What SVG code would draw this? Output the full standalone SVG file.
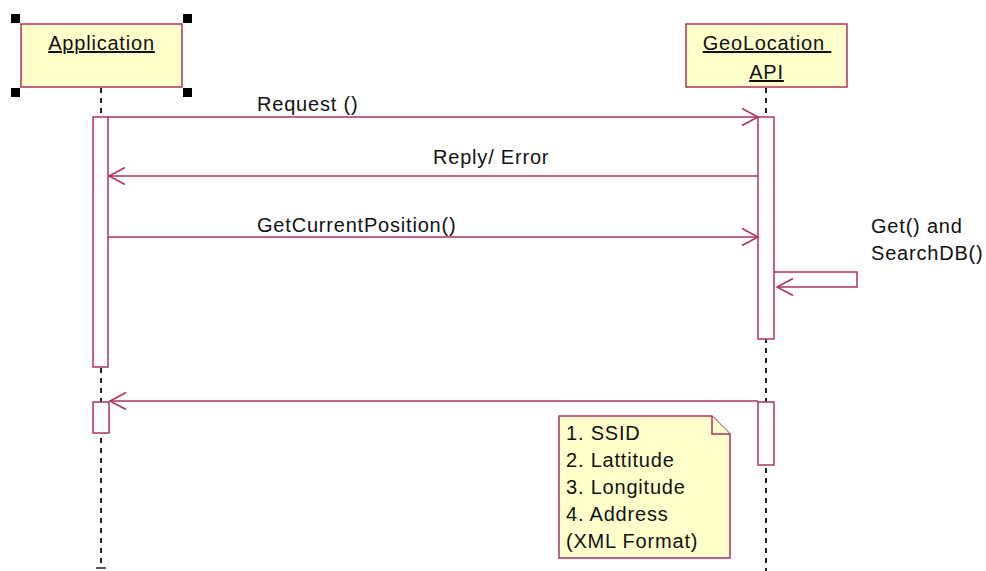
<svg xmlns="http://www.w3.org/2000/svg" width="986" height="571" viewBox="0 0 986 571">
<style>
  .t { font-family: "Liberation Sans", Arial, sans-serif; font-size: 20px; letter-spacing: 0.8px; fill: #111; }
  .u { text-decoration: underline; }
  .obj { fill: #ffffcc; stroke: #b03060; stroke-width: 1.5; }
  .act { fill: #ffffff; stroke: #b03060; stroke-width: 1.5; }
  .life { stroke: #222; stroke-width: 2; stroke-dasharray: 5 5; fill: none; }
  .msg { stroke: #b03060; stroke-width: 1.5; fill: none; }
  .note { fill: #ffffcc; stroke: #b03060; stroke-width: 1.5; }
  .h { fill: #000; }
</style>
<defs>
  <marker id="open" markerUnits="userSpaceOnUse" markerWidth="20" markerHeight="20" refX="0" refY="0" viewBox="-18 -10 20 20" orient="auto" overflow="visible">
    <path d="M -16 -8.5 L 0 0 L -16 8.5" fill="none" stroke="#b03060" stroke-width="1.5"/>
  </marker>
</defs>

<g id="lifelines">
  <line class="life" x1="101" y1="88" x2="101" y2="568"/>
  <line x1="96" y1="568" x2="106" y2="568" stroke="#222" stroke-width="1.5"/>
  <line class="life" x1="766" y1="88" x2="766" y2="571"/>
</g>

<g id="application">
  <rect class="obj" x="21" y="24" width="161" height="63"/>
  <text class="t u" x="101.5" y="50" text-anchor="middle">Application</text>
  <rect class="h" x="11" y="14" width="9" height="9"/>
  <rect class="h" x="183" y="14" width="9" height="9"/>
  <rect class="h" x="11" y="88" width="9" height="9"/>
  <rect class="h" x="183" y="88" width="9" height="9"/>
</g>

<g id="geolocation">
  <rect class="obj" x="686" y="24" width="161" height="63"/>
  <text class="t u" x="767" y="50" text-anchor="middle" xml:space="preserve">GeoLocation </text>
  <text class="t u" x="766.5" y="79" text-anchor="middle">API</text>
</g>

<g id="app-activation-1"><rect class="act" x="93" y="117" width="15" height="250"/></g>
<g id="app-activation-2"><rect class="act" x="93" y="402" width="16" height="31"/></g>
<g id="geo-activation-1"><rect class="act" x="758" y="117" width="16" height="222"/></g>
<g id="geo-activation-2"><rect class="act" x="758" y="402" width="16" height="63"/></g>

<g id="connectors">
  <line class="msg" x1="108" y1="117" x2="758" y2="117" marker-end="url(#open)"/>
  <line class="msg" x1="758" y1="176" x2="109" y2="176" marker-end="url(#open)"/>
  <line class="msg" x1="108" y1="237" x2="758" y2="237" marker-end="url(#open)"/>
  <polyline class="msg" points="774,272 857,272 857,287 777,287" marker-end="url(#open)"/>
  <line class="msg" x1="758" y1="401" x2="110" y2="401" marker-end="url(#open)"/>
</g>

<g id="labels">
  <text class="t" x="257" y="111">Request ()</text>
  <text class="t" x="433" y="164">Reply/ Error</text>
  <text class="t" x="257" y="232">GetCurrentPosition()</text>
  <text class="t" x="871" y="233">Get() and</text>
  <text class="t" x="871" y="260">SearchDB()</text>
</g>

<g id="note">
  <path class="note" d="M 559 416 L 712 416 L 730 434 L 730 558 L 559 558 Z"/>
  <path class="note" d="M 712 416 L 712 434 L 730 434"/>
  <text class="t" x="566" y="440">1. SSID</text>
  <text class="t" x="566" y="467">2. Lattitude</text>
  <text class="t" x="566" y="494">3. Longitude</text>
  <text class="t" x="566" y="521">4. Address</text>
  <text class="t" x="566" y="548">(XML Format)</text>
</g>
</svg>
